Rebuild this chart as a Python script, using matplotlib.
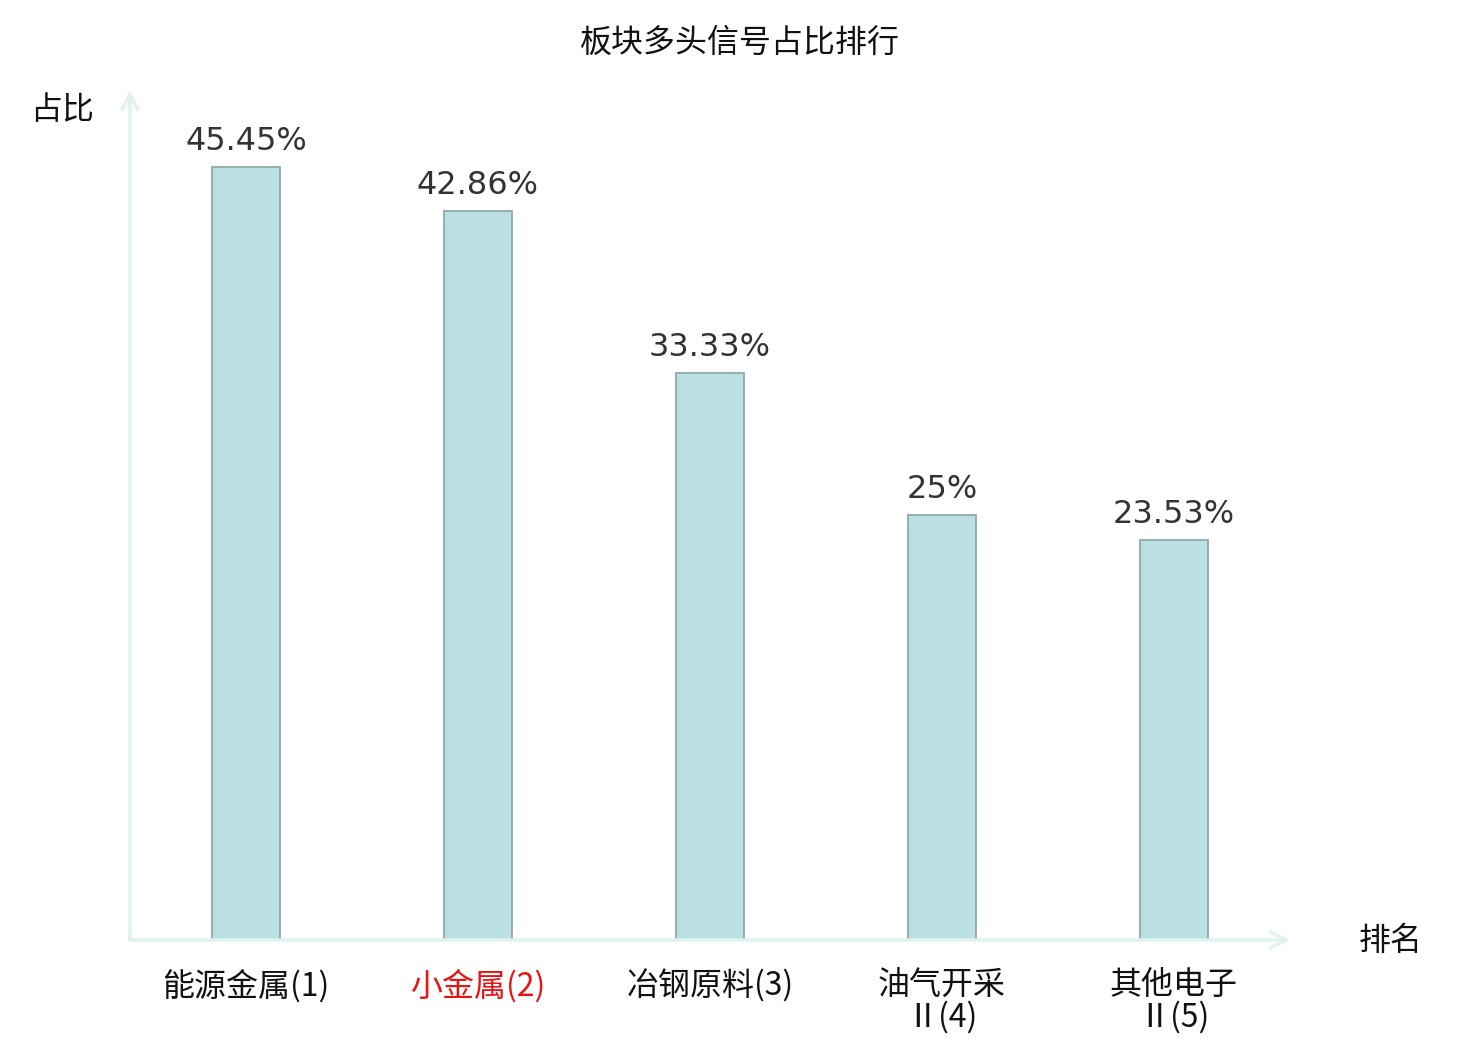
import matplotlib
matplotlib.use("Agg")
import matplotlib.pyplot as plt

plt.rcParams['font.family'] = ['Noto Sans CJK SC', 'DejaVu Sans']

# datos
categorias = ["能源金属(1)", "小金属(2)", "冶钢原料(3)", "油气开采\nⅡ(4)", "其他电子\nⅡ(5)"]
valores = [45.45, 42.86, 33.33, 25, 23.53]
etiquetas = ["45.45%", "42.86%", "33.33%", "25%", "23.53%"]
resaltado = 1  # indice en rojo

fig = plt.figure(figsize=(14.8, 10.4), dpi=100)
ax = fig.add_axes([130 / 1480, 100 / 1040, 1160 / 1480, 850 / 1040])

x = list(range(len(categorias)))
ax.bar(x, valores, width=0.293, color="#bbe0e3", edgecolor="#8ea9aa", linewidth=1.3, zorder=2)

for xi, v, t in zip(x, valores, etiquetas):
    ax.annotate(t, (xi, v), xytext=(0, 7.5), textcoords="offset points",
                ha="center", va="bottom", fontsize=23, color="#333333",
                family="DejaVu Sans")

ax.set_xlim(-0.5, 4.5)
ax.set_ylim(0, 50)
for s in ax.spines.values():
    s.set_visible(False)
ax.set_yticks([])
ax.set_xticks(x)
ax.set_xticklabels(categorias, fontsize=23, linespacing=0.98)
ax.tick_params(axis="x", length=0, pad=21)
for i, lbl in enumerate(ax.get_xticklabels()):
    lbl.set_color("#e81414" if i == resaltado else "#111111")

# ejes con flecha
eje = "#dff2f0"
ax.annotate("", xy=(0, 1.0), xytext=(0, 0), xycoords="axes fraction",
            arrowprops=dict(arrowstyle="->", color=eje, lw=2.5, mutation_scale=28,
                            shrinkA=0, shrinkB=0), annotation_clip=False)
ax.annotate("", xy=(1.0, 0), xytext=(0, 0), xycoords="axes fraction",
            arrowprops=dict(arrowstyle="->", color=eje, lw=2.5, mutation_scale=28,
                            shrinkA=0, shrinkB=0), annotation_clip=False)

fig.text(62 / 1480, 1 - 110 / 1040, "占比", ha="center", va="center", fontsize=23, color="#111111")
fig.text(1391 / 1480, 1 - 941 / 1040, "排名", ha="center", va="center", fontsize=23, color="#111111")
fig.text(740 / 1480, 1 - 43 / 1040, "板块多头信号占比排行", ha="center", va="center",
         fontsize=23, color="#111111")

fig.savefig("out.png", dpi=100)
